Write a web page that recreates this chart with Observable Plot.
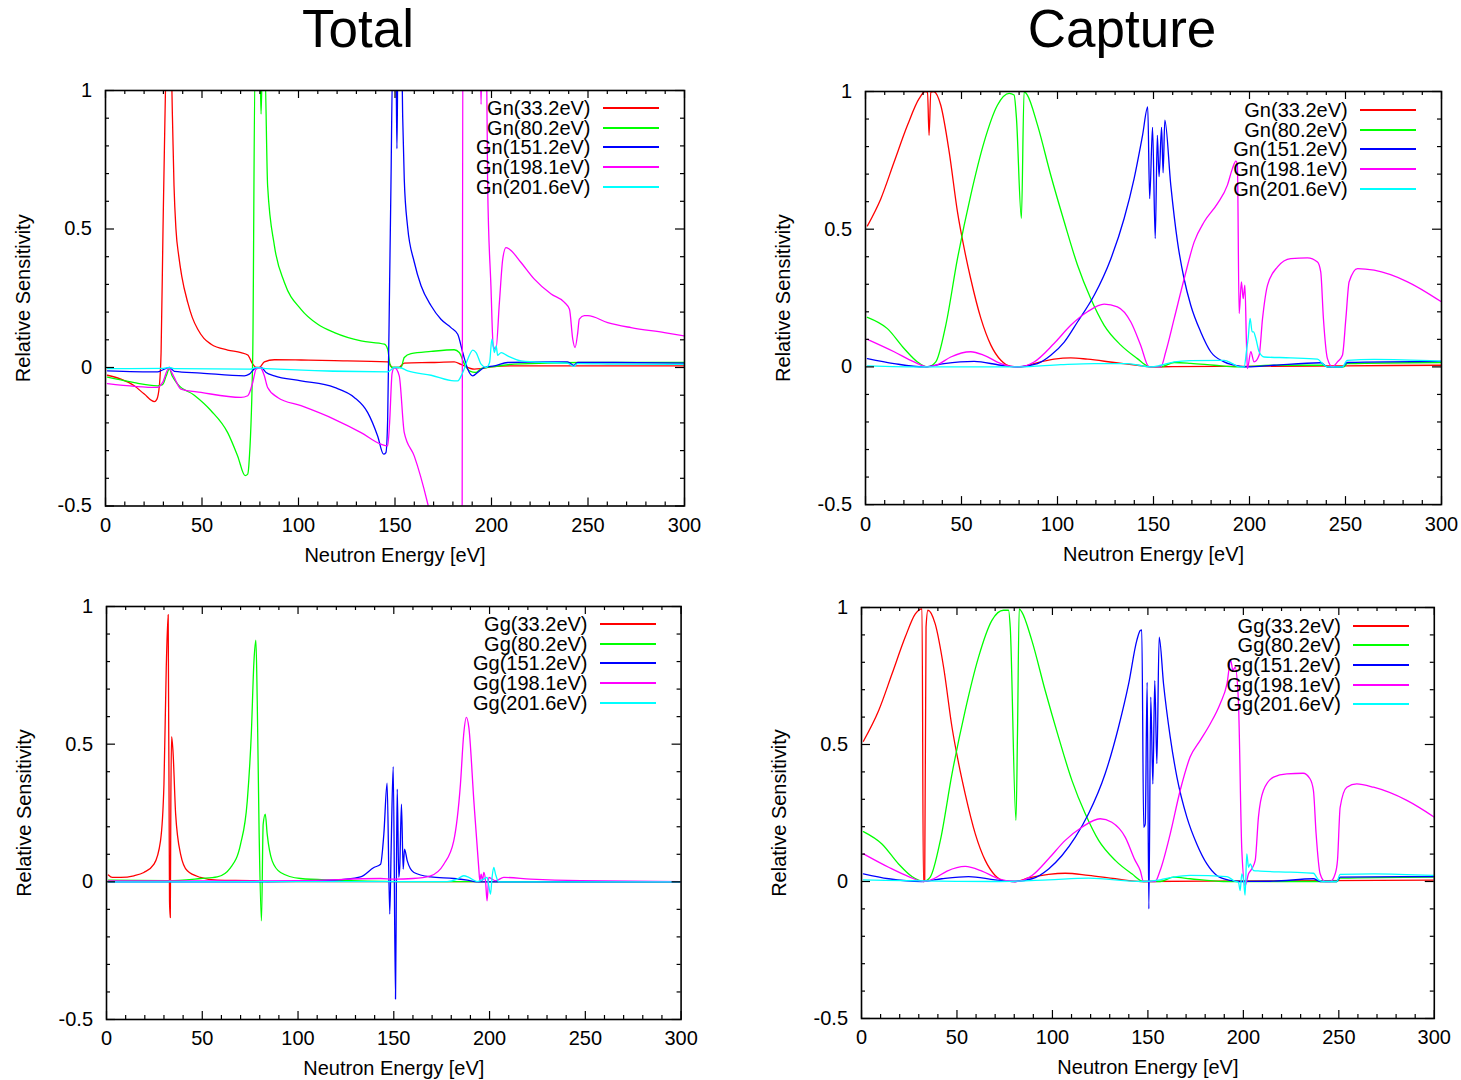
<!DOCTYPE html>
<html><head><meta charset="utf-8">
<script src="https://cdn.jsdelivr.net/npm/d3@7"></script>
<script src="https://cdn.jsdelivr.net/npm/@observablehq/plot@0.6"></script>
<style>
body{margin:0;background:#fff;}
#root{position:relative;width:1461px;height:1080px;overflow:hidden;font-family:"Liberation Sans",Arial,sans-serif;color:#000;}
.title{position:absolute;font-size:53px;line-height:53px;transform:translateX(-50%);white-space:nowrap;}
.panel{position:absolute;}
.lgtext{position:absolute;font-size:20px;line-height:22px;text-align:right;white-space:nowrap;}
.lgline{position:absolute;height:2px;}
</style></head><body><div id="root"></div>
<script>
// ---------- tick definitions ----------
const xMajor = [0, 50, 100, 150, 200, 250, 300];
const xTickLabels = ["0", "50", "100", "150", "200", "250", "300"];
const xMinor = [10, 20, 30, 40, 60, 70, 80, 90, 110, 120, 130, 140, 160, 170, 180, 190, 210, 220, 230, 240, 260, 270, 280, 290];
const yMajor = [-0.5, 0, 0.5, 1];
const yTickLabels = ["-0.5", "0", "0.5", "1"];
const yMinor = [-0.4, -0.3, -0.2, -0.1, 0.1, 0.2, 0.3, 0.4, 0.6, 0.7, 0.8, 0.9];

const resonances = ["33.2eV", "80.2eV", "151.2eV", "198.1eV", "201.6eV"];
const seriesColors = ["#ff0000", "#00ff00", "#0000ff", "#ff00ff", "#00ffff"];
const titles = ["Total", "Capture"];
const xLabel = "Neutron Energy [eV]";
const yLabel = "Relative Sensitivity";

// ---------- Total, Gn (energy eV, relative sensitivity) ----------
const tGn33 = [[1,-0.028],[8,-0.042],[14.9,-0.066],[20.1,-0.096],[25.3,-0.123],[26.6,-0.115],[27.9,-0.066],[28.8,0.054],[29.8,0.5],[30.8,0.9],[31.5,1.1],[34,1.1],[34.7,0.9],[35.5,0.656],[36.5,0.5],[38,0.4],[39.5,0.33],[42.6,0.235],[45,0.18],[47.8,0.138],[51,0.105],[54.7,0.084],[63.3,0.063],[70.2,0.054],[73.7,0.045],[76.3,0.012],[78,0],[79.7,0],[82.3,0.02],[87.5,0.028],[101.3,0.027],[118.6,0.025],[146.2,0.02],[147.5,0.01],[148.5,0],[152,0],[154.8,0.016],[168.7,0.018],[180.7,0.02],[184.2,0.011],[191.1,-0.006],[194.6,-0.004],[199.7,0.002],[211.8,0.006],[246.4,0.006],[300,0.006]];
const tGn80 = [[1,-0.035],[8,-0.045],[15,-0.055],[27,-0.066],[29.6,-0.062],[31.5,-0.03],[33.1,-0.005],[34.5,-0.03],[37.4,-0.06],[46,-0.1],[54.7,-0.156],[63.3,-0.235],[68.5,-0.32],[72.3,-0.39],[73.7,-0.385],[74.5,-0.33],[76.3,0.05],[77.5,1.1],[80,1.1],[80.6,0.915],[81.3,1.1],[82.5,1.1],[84,0.656],[87.5,0.44],[92.7,0.307],[101.3,0.21],[110,0.156],[118.6,0.126],[132.4,0.096],[144.5,0.084],[146.2,0.066],[147.6,0.006],[149,0],[153.1,0],[154.8,0.036],[158.3,0.05],[168.7,0.058],[180.7,0.064],[183.3,0.054],[186,0.012],[188.5,-0.012],[192,-0.018],[194.6,-0.004],[199.7,0.002],[211.8,0.012],[246.4,0.018],[300,0.018]];
const tGn151 = [[1,-0.012],[27,-0.016],[29.6,-0.009],[33.1,0],[35.7,-0.014],[49.5,-0.02],[71.9,-0.03],[74.5,-0.024],[78,-0.001],[80.6,0],[83.2,-0.018],[87.5,-0.03],[101.3,-0.048],[118.6,-0.072],[128.9,-0.108],[135.8,-0.162],[141,-0.247],[144.1,-0.313],[145.3,-0.307],[146.2,-0.187],[147.2,0.3],[147.9,0.656],[148.8,1.1],[150.5,1.1],[151,0.79],[151.5,1.1],[153.5,1.1],[154,0.9],[154.8,0.68],[156.5,0.51],[160,0.38],[163.5,0.295],[168.7,0.223],[173.8,0.174],[179,0.144],[182.5,0.12],[185.1,0.054],[187.7,-0.006],[190.3,-0.03],[192.8,-0.018],[196.3,0],[201.5,0.006],[208.4,0.018],[229.1,0.02],[239.4,0.02],[242.6,0.008],[244.6,0.018],[263.7,0.018],[300,0.016]];
const tGn198 = [[1,-0.058],[27,-0.072],[29.6,-0.054],[32.8,-0.002],[35.2,-0.03],[39.1,-0.078],[49.5,-0.09],[70.2,-0.108],[73.7,-0.102],[76.3,-0.054],[78,-0.006],[80.2,0],[82.3,-0.03],[84,-0.072],[89.2,-0.108],[101.3,-0.138],[118.6,-0.187],[132.4,-0.235],[142.7,-0.277],[146.2,-0.283],[147.2,-0.2],[148.5,-0.02],[149.7,0],[152.2,-0.03],[154.8,-0.235],[160,-0.32],[166.9,-0.49],[172,-0.65],[184.5,-1.5],[185.3,1.5],[194,1.2],[194.6,0.95],[195.2,1.2],[197.5,1.05],[198,0.656],[199.7,0.295],[200.9,0.078],[202.3,0.066],[204.1,0.235],[205.8,0.39],[207.5,0.433],[209.3,0.427],[215.3,0.379],[222.2,0.319],[230.9,0.265],[237.8,0.235],[240.4,0.21],[242.1,0.102],[243.3,0.072],[244.7,0.127],[245.5,0.175],[248.1,0.187],[249.9,0.187],[260.2,0.162],[272.3,0.144],[289.6,0.126],[300,0.114]];
const tGn201 = [[1,-0.004],[30,-0.003],[33.1,0],[36,-0.004],[75,-0.006],[78,0],[83,-0.004],[146.2,-0.016],[149.7,0],[152.2,0],[156.6,-0.012],[168.7,-0.028],[180.7,-0.048],[182.5,-0.048],[185.1,-0.018],[187.7,0.03],[190.3,0.063],[192,0.054],[194.6,0.012],[197.2,0],[199,0.018],[200.2,0.102],[201.5,0.054],[202.4,0.078],[203.2,0.044],[205,0.054],[208.4,0.042],[215.3,0.024],[229.1,0.018],[239.4,0.016],[242.6,0.004],[244.6,0.014],[263.7,0.012],[300,0.011]];

// ---------- Capture, Gn ----------
const cGn33 = [[1,0.512],[8,0.611],[14.9,0.744],[21.9,0.878],[27.9,0.974],[31.1,1.0],[32.3,0.998],[33.1,0.841],[34,0.998],[35.4,1.0],[39.2,0.95],[43.6,0.78],[47.9,0.563],[51.4,0.43],[54.8,0.32],[60.1,0.176],[65.3,0.079],[70.5,0.024],[75.7,0.002],[80.9,0],[87.8,0.012],[98.2,0.028],[106.9,0.033],[115.6,0.028],[129.5,0.016],[141.6,0.006],[148.6,0],[160,0.001],[200,0.002],[250,0.004],[300,0.006]];
const cGn80 = [[1,0.18],[11.4,0.139],[20.1,0.067],[27.1,0.018],[32.3,0],[36.6,0.018],[41.8,0.151],[47.9,0.393],[54.8,0.623],[61.8,0.817],[68.7,0.95],[74.8,0.993],[77.4,0.987],[78.6,0.905],[81.2,0.539],[82.6,1.0],[84.3,0.987],[89.6,0.878],[96.5,0.696],[103.5,0.527],[110.4,0.37],[117.3,0.248],[124.3,0.151],[133,0.079],[141.6,0.03],[147.2,0.002],[149,0],[153.8,0],[160.8,0.016],[169.4,0.013],[181.6,0.006],[193.7,0],[212.8,0.006],[238.8,0.006],[240.6,0],[249.2,0],[250.9,0.012],[300,0.016]];
const cGn151 = [[1,0.03],[14.9,0.012],[30.5,0],[40.9,0.012],[56.6,0.02],[70.5,0.006],[79.2,0],[89.6,0.012],[96.5,0.042],[103.5,0.09],[110.4,0.163],[119.1,0.26],[127.8,0.393],[134.7,0.539],[139.9,0.684],[144.3,0.841],[147,0.944],[148,0.611],[149.5,0.87],[150.9,0.466],[152,0.841],[152.9,0.691],[154.2,0.87],[155,0.705],[155.9,0.896],[159,0.66],[162.5,0.454],[165.9,0.321],[169.4,0.224],[174.6,0.127],[179.8,0.055],[186.8,0.018],[195.5,0.002],[198.9,0],[212.8,0.006],[237.1,0.015],[240.6,0],[248.4,0],[250.9,0.016],[300,0.02]];
const cGn198 = [[1,0.1],[14.9,0.055],[25.3,0.018],[32.3,0],[37.5,0.008],[44.4,0.036],[54.8,0.055],[61.8,0.042],[70.5,0.012],[79.2,0],[87.8,0.018],[98.2,0.085],[106.9,0.151],[115.6,0.2],[124.3,0.228],[131.2,0.218],[138.2,0.163],[143.3,0.079],[147.7,0],[153.8,0],[156.4,0.055],[160.8,0.176],[166,0.321],[171.2,0.454],[176.4,0.527],[183.3,0.593],[188.5,0.66],[191.1,0.72],[192.9,0.747],[193.7,0.733],[194.6,0.194],[195.8,0.309],[196.7,0.248],[197.6,0.297],[198.4,0.091],[198.9,-0.006],[200.7,0.055],[202.4,0.018],[205,0.042],[206.8,0.176],[209.4,0.297],[214.6,0.363],[221.5,0.393],[230.2,0.396],[235.4,0.381],[237.1,0.345],[238.5,0.176],[240.6,0.03],[243.2,0],[245.8,0.018],[248.4,0.042],[250.2,0.176],[251.9,0.309],[256.3,0.357],[264.9,0.351],[282.3,0.309],[300,0.236]];
const cGn201 = [[1,0.004],[30,0],[80,0],[101.7,0.008],[119.1,0.012],[136.4,0.012],[148.6,0],[153.8,0.006],[160.8,0.018],[169.4,0.023],[186.8,0.024],[191.1,0.012],[194.6,0],[197.2,0],[198.6,0.067],[199.3,0.103],[200.3,0.176],[201.4,0.127],[202.1,0.127],[203.3,0.103],[205,0.055],[207.6,0.036],[221.5,0.033],[235.4,0.028],[238,0.012],[240.6,0],[248.4,0],[250.9,0.024],[264.9,0.027],[300,0.021]];

// ---------- Total, Gg ----------
const tGg33 = [[1,0.025],[3,0.016],[7.4,0.016],[14.3,0.022],[19.5,0.034],[24.8,0.064],[28.2,0.149],[30,0.355],[31.2,0.778],[32.2,0.97],[32.9,-0.069],[33.3,-0.13],[33.6,0.3],[34,0.527],[34.7,0.476],[36.1,0.246],[38.7,0.1],[42.2,0.04],[49.1,0.016],[57.8,0.006],[77,0.004],[83.9,0.001],[150,0.001],[300,0.001]];
const tGg80 = [[1,0.006],[31.7,0.004],[49.1,0.012],[57.8,0.018],[64.8,0.052],[70,0.137],[73.5,0.294],[75.6,0.536],[77,0.803],[78,0.878],[78.7,0.657],[79.7,0.173],[80.9,-0.142],[81.8,0.209],[82.9,0.246],[83.9,0.173],[86.5,0.076],[90.9,0.034],[101.3,0.012],[118.7,0.006],[153.5,0.001],[300,0.001]];
const tGg151 = [[1,0],[80,0],[118.7,0.006],[132.6,0.018],[139.6,0.052],[143.1,0.064],[144.8,0.173],[146.5,0.358],[147.9,-0.117],[148.6,0.113],[149.7,0.418],[150.9,-0.426],[151.4,0.052],[151.8,0.337],[152.6,0.016],[153.1,0.052],[154,0.282],[154.9,0.046],[155.6,0.119],[157,0.077],[160.5,0.034],[169.2,0.018],[181.3,0.012],[188.3,0.006],[193.5,0],[300,0]];
const tGg198 = [[1,0.003],[100,0.004],[143,0.012],[150,0.01],[160,0.012],[169.2,0.022],[176.1,0.064],[181.3,0.149],[184.8,0.355],[186.5,0.536],[187.9,0.597],[189.2,0.56],[191.8,0.294],[194.4,0.046],[194.9,0.004],[195.6,0.028],[196.3,0.004],[197,0.034],[197.9,0.004],[198.7,-0.069],[199.6,0.016],[201.3,0.01],[203.1,0.004],[207.4,0.016],[221.4,0.01],[247.5,0.004],[300,0.001]];
const tGg201 = [[1,0],[177.8,0.001],[183.1,0.01],[186.5,0.022],[189.2,0.016],[193.5,0.001],[197,0.01],[198.7,0.016],[199.6,-0.015],[200.5,-0.045],[201.3,0.016],[202.2,0.052],[203.1,0.028],[204.8,0],[300,0]];

// ---------- Capture, Gg ----------
const cGg33 = [[1,0.512],[9,0.624],[16,0.758],[22.9,0.892],[28.2,0.977],[31.7,0.995],[32.4,0.004],[33.1,0.004],[33.8,0.928],[34.8,0.99],[38.6,0.94],[43,0.782],[47.4,0.563],[50.9,0.43],[54.3,0.32],[59.6,0.174],[64.8,0.077],[70,0.022],[75.3,0.001],[80.5,0],[87.5,0.013],[98,0.026],[106.7,0.03],[118.9,0.022],[132.9,0.01],[146.8,0],[200,0.002],[300,0.005]];
const cGg80 = [[1,0.182],[10.7,0.137],[19.4,0.064],[26.4,0.018],[32.5,0],[36,0.016],[41.3,0.15],[47.4,0.393],[54.3,0.624],[61.3,0.819],[68.3,0.953],[74.4,0.99],[77,0.99],[77.9,0.928],[80.9,0.223],[81.7,0.54],[82.6,0.995],[84,0.983],[89.2,0.88],[96.2,0.697],[103.2,0.527],[110.2,0.369],[117.2,0.247],[124.2,0.15],[132.9,0.077],[141.6,0.028],[147.7,0],[151.2,0],[156.4,0],[163.4,0.016],[172.1,0.01],[189.6,0],[198.3,0],[238.5,0],[241.1,0],[249,0],[250.7,0.012],[300,0.016]];
const cGg151 = [[1,0.028],[14.2,0.01],[31.7,0],[42.1,0.01],[56.1,0.018],[70,0.006],[78.8,0],[89.3,0.01],[98,0.046],[105,0.095],[112,0.162],[118.9,0.247],[127.6,0.393],[134.6,0.563],[139.9,0.721],[144.2,0.88],[146,0.916],[146.8,0.918],[147.8,0.198],[148.6,0.21],[149.6,0.727],[150.5,-0.1],[151.5,0.673],[152.6,0.356],[153.6,0.733],[154.7,0.43],[155.9,0.892],[158.2,0.721],[161.7,0.527],[165.2,0.381],[170.4,0.235],[175.6,0.137],[180.9,0.064],[186.1,0.022],[193.1,0.004],[198.3,0],[215.8,0.001],[236.7,0.01],[240.2,0],[248.9,0],[250.7,0.016],[300,0.018]];
const cGg198 = [[1,0.101],[14.2,0.052],[24.7,0.018],[32.5,0],[37.8,0.01],[44.8,0.038],[54.3,0.055],[63.1,0.038],[71.8,0.01],[80.5,0],[89.3,0.022],[98,0.083],[106.7,0.15],[115.4,0.198],[125,0.229],[131.1,0.216],[138.1,0.162],[143.3,0.077],[146,0.04],[147.7,0],[153.8,0],[156.4,0.04],[161.7,0.174],[166.9,0.332],[172.1,0.454],[177.4,0.515],[182.6,0.575],[187.8,0.648],[191.4,0.721],[193.4,0.807],[194.5,0.77],[195.7,0.782],[197.4,0.66],[199.2,0.113],[200.9,-0.015],[202.7,0.028],[204.4,0.046],[206.2,0.077],[207.9,0.235],[210.5,0.332],[215.8,0.381],[222.8,0.393],[231.3,0.395],[234.9,0.375],[236.7,0.332],[238.1,0.174],[240.2,0.028],[242.8,0],[245.5,0],[248.1,0.028],[249.3,0.077],[250.7,0.271],[254.2,0.344],[259.4,0.356],[268.2,0.344],[285.6,0.296],[300,0.235]];
const cGg201 = [[1,0.006],[70,0],[98,0.006],[118.9,0.012],[146.8,0],[156.4,0.006],[163.4,0.016],[172.1,0.022],[191.4,0.018],[195.7,0],[197.4,-0.002],[198.3,-0.033],[199.2,0.028],[200.1,0.004],[200.9,-0.05],[201.8,0.101],[202.7,0.052],[203.6,0.064],[205.3,0.04],[208.8,0.038],[224.5,0.034],[236.7,0.03],[239.3,0.006],[241.9,0],[248.9,0],[250.7,0.026],[268.2,0.028],[300,0.022]];

// ---------- layout ----------
const root = document.getElementById("root");
const FONT = '"Liberation Sans", Arial, sans-serif';

const panels = [
  {frame: [104.5, 89.5, 683.5, 505], prefix: "Gn", series: [tGn33, tGn80, tGn151, tGn198, tGn201]},
  {frame: [864.7, 91.3, 1440.7, 504.4], prefix: "Gn", series: [cGn33, cGn80, cGn151, cGn198, cGn201]},
  {frame: [105.9, 605.5, 680.5, 1018.5], prefix: "Gg", series: [tGg33, tGg80, tGg151, tGg198, tGg201]},
  {frame: [861.2, 607, 1434, 1018], prefix: "Gg", series: [cGg33, cGg80, cGg151, cGg198, cGg201]}
];

// titles
[[titles[0], 358], [titles[1], 1122]].forEach(([t, cx]) => {
  const d = document.createElement("div");
  d.className = "title";
  d.textContent = t;
  d.style.left = cx + "px";
  d.style.top = "2px";
  root.appendChild(d);
});

const mL = 110, mT = 14, mR = 20, mB = 70;

panels.forEach(p => {
  const [L, T, R, B] = p.frame;
  const fw = R - L, fh = B - T;
  const width = mL + fw + mR, height = mT + fh + mB;
  const lines = p.series.map((s, i) =>
    Plot.line(s, {x: d => d[0], y: d => d[1], stroke: seriesColors[i], strokeWidth: 1.3, curve: "monotone-x", clip: true})
  );
  const chart = Plot.plot({
    width, height,
    marginLeft: mL, marginTop: mT, marginRight: mR, marginBottom: mB,
    x: {domain: [0, 300], axis: null},
    y: {domain: [-0.5, 1], axis: null},
    style: {fontFamily: FONT, fontSize: "20px", background: "transparent", overflow: "visible", color: "#000"},
    marks: [
      ...lines,
      // inward ticks, all four sides
      Plot.tickX(xMajor, {x: d => d, insetTop: fh - 8, stroke: "#000", strokeWidth: 1.2}),
      Plot.tickX(xMajor, {x: d => d, insetBottom: fh - 8, stroke: "#000", strokeWidth: 1.2}),
      Plot.tickX(xMinor, {x: d => d, insetTop: fh - 4, stroke: "#000", strokeWidth: 1.2}),
      Plot.tickX(xMinor, {x: d => d, insetBottom: fh - 4, stroke: "#000", strokeWidth: 1.2}),
      Plot.tickY(yMajor, {y: d => d, insetRight: fw - 9, stroke: "#000", strokeWidth: 1.2}),
      Plot.tickY(yMajor, {y: d => d, insetLeft: fw - 9, stroke: "#000", strokeWidth: 1.2}),
      Plot.tickY(yMinor, {y: d => d, insetRight: fw - 4, stroke: "#000", strokeWidth: 1.2}),
      Plot.tickY(yMinor, {y: d => d, insetLeft: fw - 4, stroke: "#000", strokeWidth: 1.2}),
      Plot.frame({stroke: "#000", strokeWidth: 1.6}),
      // tick labels
      Plot.text(xMajor, {x: d => d, frameAnchor: "bottom", lineAnchor: "middle", dy: 19.5, text: (d, i) => xTickLabels[i], fontSize: 20}),
      Plot.text(yMajor, {y: d => d, frameAnchor: "left", lineAnchor: "middle", dx: -13.5, textAnchor: "end", text: (d, i) => yTickLabels[i], fontSize: 20}),
      // axis labels
      Plot.text([xLabel], {frameAnchor: "bottom", lineAnchor: "middle", textAnchor: "middle", dy: 49.5, text: d => d, fontSize: 20}),
      Plot.text([yLabel], {frameAnchor: "left", lineAnchor: "middle", textAnchor: "middle", dx: -82, rotate: -90, text: d => d, fontSize: 20})
    ]
  });
  const wrap = document.createElement("div");
  wrap.className = "panel";
  wrap.style.left = (L - mL) + "px";
  wrap.style.top = (T - mT) + "px";
  wrap.appendChild(chart);
  root.appendChild(wrap);

  // legend (key) in the top-right of the frame
  resonances.forEach((r, i) => {
    const cy = T + 18.5 + 19.7 * i;
    const t = document.createElement("div");
    t.className = "lgtext";
    t.textContent = `${p.prefix}(${r})`;
    t.style.right = (1461 - (R - 93)) + "px";
    t.style.top = (cy - 11) + "px";
    root.appendChild(t);
    const l = document.createElement("div");
    l.className = "lgline";
    l.style.left = Math.round(R - 81) + "px";
    l.style.width = "56px";
    l.style.top = (Math.round(cy) - 1) + "px";
    l.style.backgroundColor = seriesColors[i];
    root.appendChild(l);
  });
});
</script></body></html>
